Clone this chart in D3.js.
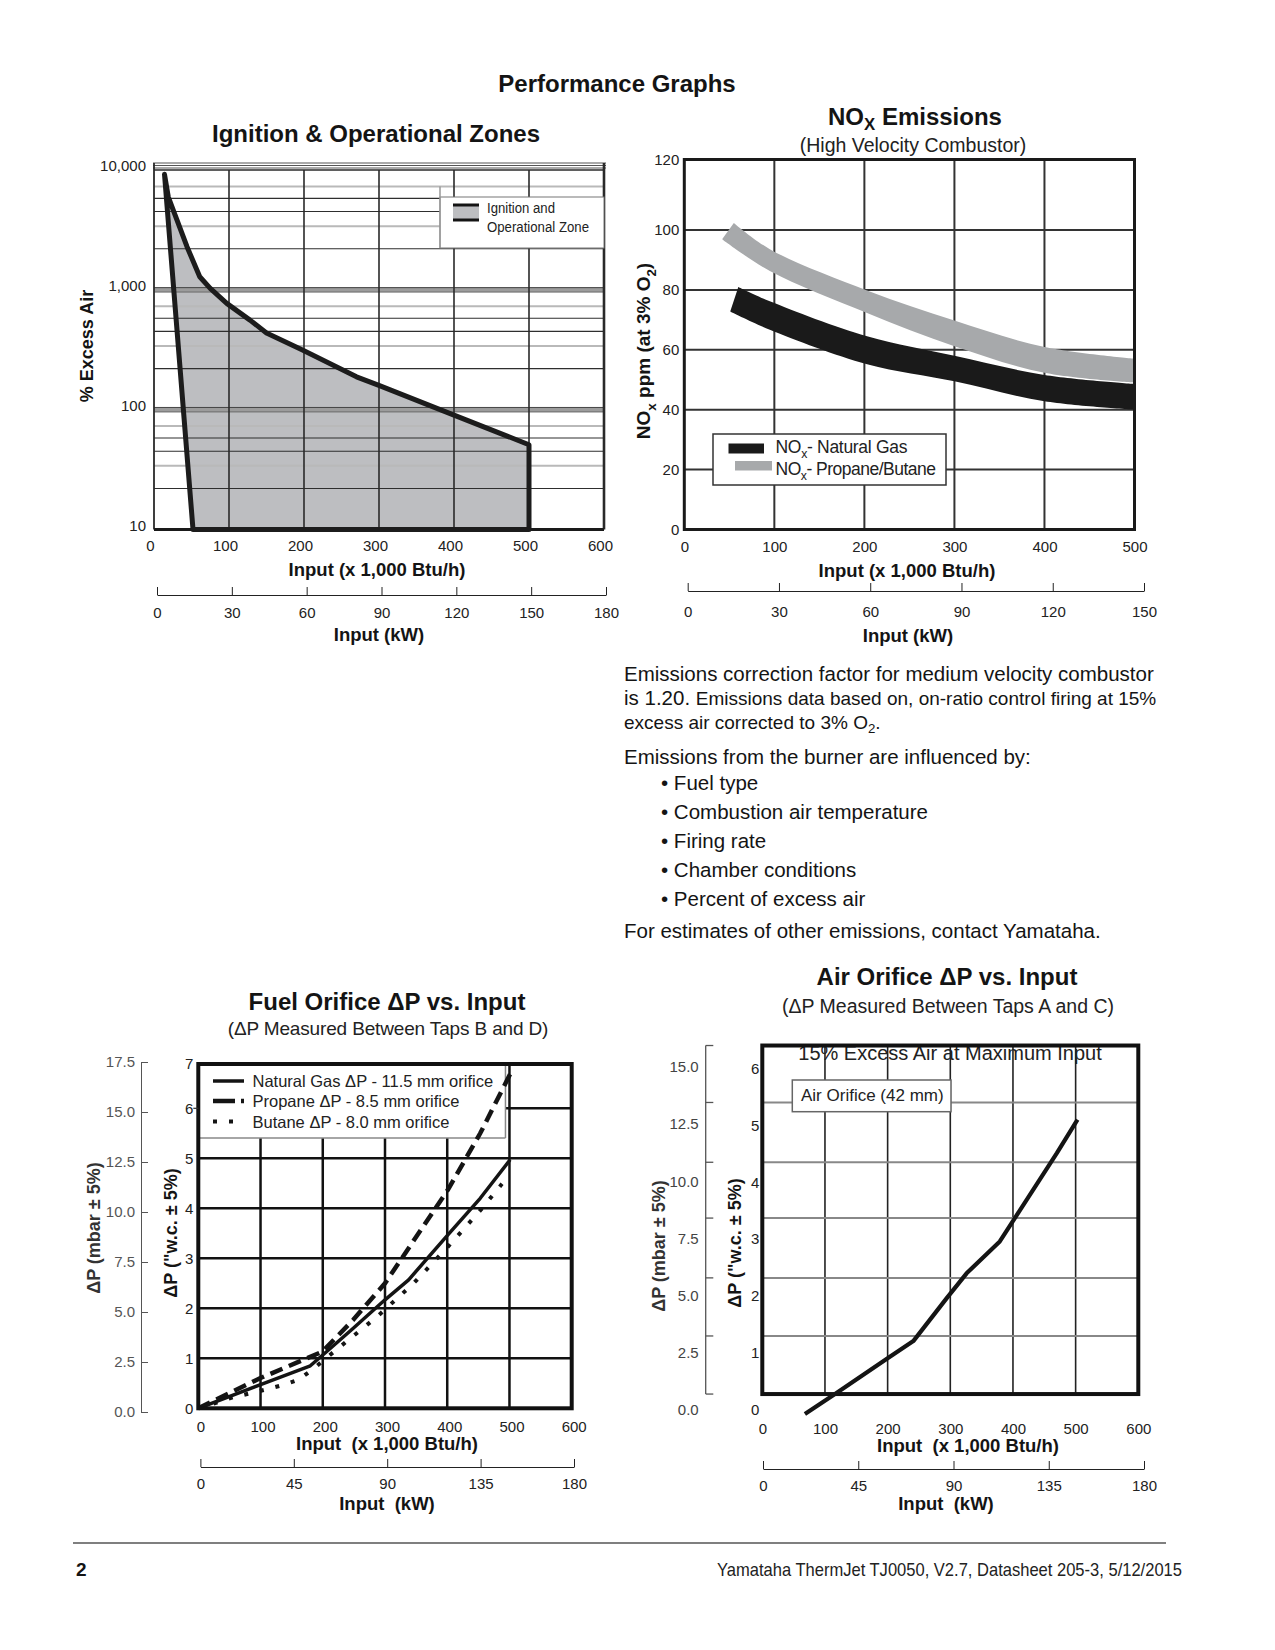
<!DOCTYPE html>
<html>
<head>
<meta charset="utf-8">
<script src="https://cdnjs.cloudflare.com/ajax/libs/d3/7.8.5/d3.min.js"></script>
<style>
  body { margin: 0; background: #fff; }
  svg { display: block; }
  .pre { white-space: pre; }
</style>
</head>
<body>
<div id="page"></div>
<script>
// Performance graphs page, redrawn with d3

// ---- Ignition & Operational Zones (input x1000 Btu/h vs % excess air, zone outline) ----
var zoneInput     = [14, 19, 44, 61, 75, 97, 128, 150, 198, 270, 299, 400, 500, 500, 52];
var zoneExcessAir = [9200, 5980, 2290, 1285, 1028, 771, 559, 437, 314, 188, 160, 90, 51, 10, 10];
var excessAirTicks  = [10, 100, 1000, 10000];
var excessAirLabels = ["10", "100", "1,000", "10,000"];
var minorSteps = [2.2, 3.4, 4.5, 5.8, 7.3];   // minor grid inside each decade
var graySteps  = [3.4, 7.3];
var btuTicks   = [0, 100, 200, 300, 400, 500, 600];
var kwTicks    = [0, 30, 60, 90, 120, 150, 180];

// ---- NOx emissions bands (ppm at 3% O2) ----
var noxTicks    = [0, 20, 40, 60, 80, 100, 120];
var noxBtuTicks = [0, 100, 200, 300, 400, 500];
var noxKwTicks  = [0, 30, 60, 90, 120, 150];
var gasTopX = [60, 95, 203, 300, 400, 500];
var gasTopY = [81, 76.2, 64.5, 58, 51.6, 48.6];
var gasBotX = [51, 95, 203, 300, 400, 500];
var gasBotY = [72.8, 66.7, 55.2, 49.5, 42.8, 40];
var lpgTopX = [55, 95, 203, 300, 400, 500];
var lpgTopY = [102, 93.6, 79.8, 69.8, 60.9, 57];
var lpgBotX = [42, 95, 203, 300, 400, 500];
var lpgBotY = [96.9, 86.3, 72.3, 61.2, 52.3, 49];

// ---- Fuel orifice dP ("w.c.) ----
var wcTicks    = [0, 1, 2, 3, 4, 5, 6, 7];
var mbarTicks  = [0, 2.5, 5, 7.5, 10, 12.5, 15, 17.5];
var kw45Ticks  = [0, 45, 90, 135, 180];
var ngInput    = [0, 99, 180, 206, 249, 300, 338, 401, 453, 501];
var ngDP       = [0, 0.47, 0.85, 1.13, 1.6, 2.17, 2.57, 3.47, 4.2, 4.97];
var propInput  = [0, 99, 199, 249, 300, 401, 453, 501];
var propDP     = [0, 0.6, 1.13, 1.77, 2.5, 4.37, 5.5, 6.77];
var butInput   = [0, 26, 56, 80, 110, 137, 161, 183, 205, 287, 346, 401, 454, 488];
var butDP      = [0, 0.1, 0.22, 0.29, 0.38, 0.47, 0.57, 0.77, 1.0, 1.83, 2.5, 3.23, 3.97, 4.49];

// ---- Air orifice dP ("w.c.) ----
var airWcTicks   = [0, 1, 2, 3, 4, 5, 6];
var airMbarTicks = [0, 2.5, 5, 7.5, 10, 12.5, 15];
var airGrid      = [0.28, 1.30, 2.32, 3.37, 4.35, 5.40, 6.40];  // first = frame bottom, last = frame top
var airInput     = [68, 116, 200, 241, 294, 326, 379, 403, 470, 503];
var airDP        = [-0.07, 0.28, 0.91, 1.21, 1.96, 2.4, 2.96, 3.37, 4.51, 5.1];

var FONT = "'Liberation Sans', Arial, Helvetica, sans-serif";
var INK = "#141414";

var svg = d3.select("#page").append("svg")
    .attr("width", 1275).attr("height", 1650)
    .attr("font-family", FONT);
svg.append("rect").attr("width", 1275).attr("height", 1650).attr("fill", "#fff");

function label(parent, x, y, txt, size, opt) {
    opt = opt || {};
    return parent.append("text")
        .attr("x", x).attr("y", y)
        .attr("font-size", size)
        .attr("font-weight", opt.bold ? 700 : 400)
        .attr("font-family", FONT)
        .attr("text-anchor", opt.anchor || "middle")
        .attr("fill", opt.color || INK)
        .text(txt);
}

// narrow text: squeeze the normal face into the measured width
function narrow(parent, x, y, txt, size, width, anchor) {
    return label(parent, x, y, txt, size, { anchor: anchor || "start", color: "#222" })
        .attr("textLength", width).attr("lengthAdjust", "spacingAndGlyphs");
}

// text with subscripts, parts are strings or {t, sub:true}
function richText(parent, x, y, parts, size, opt) {
    opt = opt || {};
    var t = label(parent, x, y, null, size, opt);
    var shift = 0, drop = (opt.drop || 0.3) * size;
    parts.forEach(function (p) {
        var s = typeof p === "string" ? { t: p, sub: false } : p;
        var target = s.sub ? drop : 0;
        var ts = t.append("tspan").text(s.t).attr("dy", target - shift);
        if (s.sub) ts.attr("font-size", size * 0.7);
        shift = target;
    });
    return t;
}

function vLabel(parent, x, y, parts, size, opt) {
    return richText(parent, 0, 0, parts, size, opt)
        .attr("transform", "translate(" + x + "," + y + ") rotate(-90)");
}

function hline(g, x1, x2, y, color, w) {
    g.append("line").attr("x1", x1).attr("x2", x2).attr("y1", y).attr("y2", y)
        .attr("stroke", color).attr("stroke-width", w);
}
function vline(g, x, y1, y2, color, w) {
    g.append("line").attr("x1", x).attr("x2", x).attr("y1", y1).attr("y2", y2)
        .attr("stroke", color).attr("stroke-width", w);
}

function styleAxis(g, size, color, keepDomain) {
    g.attr("font-family", FONT).attr("font-size", size).attr("color", color);
    if (!keepDomain) g.select(".domain").remove();
    return g;
}

function pairs(xs, ys) { return xs.map(function (v, i) { return [v, ys[i]]; }); }

// ------------------------------------------------------------------
function drawZones() {
    var x = d3.scaleLinear().domain([0, 600]).range([154, 604]);
    var y = d3.scaleLog().domain([10, 10000]).range([529.5, 170]);
    var kw = d3.scaleLinear().domain([0, 180]).range([157, 606]);
    var g = svg.append("g");

    label(g, 376, 142, "Ignition & Operational Zones", 24, { bold: true });

    var pts = pairs(zoneInput, zoneExcessAir);
    var line = d3.line().x(function (d) { return x(d[0]); }).y(function (d) { return y(d[1]); });

    g.append("path").attr("d", line(pts) + "Z").attr("fill", "#bdbec1");

    // minor log grid
    var minor = [];
    [10, 100, 1000].forEach(function (dec) {
        minorSteps.forEach(function (m) {
            minor.push({ v: dec * m, gray: graySteps.indexOf(m) >= 0 });
        });
    });
    g.append("g").selectAll("line").data(minor).enter().append("line")
        .attr("x1", x(0)).attr("x2", x(600))
        .attr("y1", function (d) { return y(d.v); })
        .attr("y2", function (d) { return y(d.v); })
        .attr("stroke", function (d) { return d.gray ? "#b9b9b9" : "#2e2e2e"; })
        .attr("stroke-width", function (d) { return d.gray ? 2 : 1.1; });

    // decade lines (double)
    [100, 1000].forEach(function (v) {
        hline(g, x(0), x(600), y(v), "#9c9c9c", 5);
        hline(g, x(0), x(600), y(v) - 2.2, "#3a3a3a", 0.9);
        hline(g, x(0), x(600), y(v) + 2.2, "#6a6a6a", 0.9);
    });
    // top rule lines
    [-7, -4.5, -2].forEach(function (o) {
        hline(g, x(0) - 1, x(600) + 2, y(10000) + o, "#555", 1);
    });

    // vertical grid
    btuTicks.slice(1, 6).forEach(function (v) {
        vline(g, x(v), y(10000), y(10), "#2a2a2a", 1.6);
    });

    // frame
    hline(g, x(0), x(600), y(10000), "#2a2a2a", 1.6);
    vline(g, x(0), y(10000) - 7, y(10), "#2a2a2a", 1.8);
    vline(g, x(600), y(10000) - 7, y(10), "#2a2a2a", 2.6);
    hline(g, x(0), x(600), y(10), "#1a1a1a", 3);

    // legend
    g.append("rect").attr("x", 440).attr("y", 197).attr("width", x(600) - 440).attr("height", 51)
        .attr("fill", "#fff").attr("stroke", "#777").attr("stroke-width", 1);
    vline(g, 440, y(7300), 248, "#999", 1.5);
    g.append("rect").attr("x", 453).attr("y", 205).attr("width", 26).attr("height", 15)
        .attr("fill", "#bdbec1");
    hline(g, 453, 479, 205, INK, 3);
    hline(g, 453, 479, 220, INK, 3);
    narrow(g, 487, 212.5, "Ignition and", 15.5, 68);
    narrow(g, 487, 232, "Operational Zone", 15.5, 102);

    // zone outline
    g.append("path").attr("d", line(pts) + "Z")
        .attr("fill", "none").attr("stroke", "#1c1c1c")
        .attr("stroke-width", 5).attr("stroke-linejoin", "round");

    // axes
    var ya = g.append("g").attr("transform", "translate(154,-4)")
        .call(d3.axisLeft(y).tickValues(excessAirTicks)
            .tickFormat(function (d, i) { return excessAirLabels[i]; })
            .tickSize(0).tickPadding(8));
    styleAxis(ya, 15, "#222");

    var xa = g.append("g").attr("transform", "translate(-4,529.5)")
        .call(d3.axisBottom(x).tickValues(btuTicks).tickSize(0).tickPadding(11));
    styleAxis(xa, 15, "#222");

    var ka = g.append("g").attr("transform", "translate(0,595)")
        .call(d3.axisBottom(kw).tickValues(kwTicks).tickSizeInner(-8).tickSizeOuter(0).tickPadding(12));
    styleAxis(ka, 15, "#222", true);

    vLabel(g, 93, 346, ["% Excess Air"], 18, { bold: true });
    label(g, 377, 576, "Input (x 1,000 Btu/h)", 18.5, { bold: true });
    label(g, 379, 641, "Input (kW)", 18.5, { bold: true });
}

// ------------------------------------------------------------------
function drawNox() {
    var x = d3.scaleLinear().domain([0, 500]).range([684.3, 1134.5]);
    var y = d3.scaleLinear().domain([0, 100, 120]).range([529.5, 230, 159.5]);
    var kw = d3.scaleLinear().domain([0, 150]).range([687.7, 1144]);
    var g = svg.append("g");

    richText(g, 915, 125, ["NO", { t: "X", sub: true }, " Emissions"], 24, { bold: true, drop: 0.2 });
    label(g, 913, 152, "(High Velocity Combustor)", 19.5, { color: "#222" });

    noxBtuTicks.slice(1, 5).forEach(function (v) { vline(g, x(v), y(120), y(0), "#333", 2); });
    noxTicks.slice(1, 6).forEach(function (v) { hline(g, x(0), x(500), y(v), "#333", 2); });

    var edge = d3.line().curve(d3.curveCatmullRom.alpha(0.5))
        .x(function (d) { return x(d[0]); }).y(function (d) { return y(d[1]); });
    function band(topX, topY, botX, botY) {
        var top = edge(pairs(topX, topY));
        var bot = edge(pairs(botX, botY).reverse());
        return top + "L" + bot.slice(1) + "Z";
    }
    g.append("path").attr("d", band(lpgTopX, lpgTopY, lpgBotX, lpgBotY)).attr("fill", "#a7a9ab");
    g.append("path").attr("d", band(gasTopX, gasTopY, gasBotX, gasBotY)).attr("fill", "#1a1a1a");

    g.append("rect").attr("x", x(0)).attr("y", y(120)).attr("width", x(500) - x(0))
        .attr("height", y(0) - y(120)).attr("fill", "none")
        .attr("stroke", "#1a1a1a").attr("stroke-width", 3);

    // legend
    g.append("rect").attr("x", 713).attr("y", 434).attr("width", 233).attr("height", 51)
        .attr("fill", "#fff").attr("stroke", "#333").attr("stroke-width", 1.5);
    g.append("rect").attr("x", 728.5).attr("y", 443.5).attr("width", 35.5).attr("height", 10).attr("fill", "#1a1a1a");
    g.append("rect").attr("x", 735).attr("y", 461).attr("width", 37).attr("height", 9.5).attr("fill", "#a7a9ab");
    richText(g, 775.5, 453, ["NO", { t: "x", sub: true }, "- Natural Gas"], 17.5, { anchor: "start", color: "#222" })
        .attr("letter-spacing", -0.3);
    richText(g, 775.5, 475, ["NO", { t: "x", sub: true }, "- Propane/Butane"], 17.5, { anchor: "start", color: "#222" })
        .attr("letter-spacing", -0.5);

    var ya = g.append("g").attr("transform", "translate(684.3,0)")
        .call(d3.axisLeft(y).tickValues(noxTicks).tickSize(0).tickPadding(5));
    styleAxis(ya, 15, "#222");
    var xa = g.append("g").attr("transform", "translate(0,529.5)")
        .call(d3.axisBottom(x).tickValues(noxBtuTicks).tickSize(0).tickPadding(12));
    styleAxis(xa, 15, "#222");
    var ka = g.append("g").attr("transform", "translate(0,591)")
        .call(d3.axisBottom(kw).tickValues(noxKwTicks).tickSizeInner(-8).tickSizeOuter(0).tickPadding(15));
    styleAxis(ka, 15, "#222", true);

    vLabel(g, 650, 351, ["NO", { t: "x", sub: true }, " ppm (at 3% O", { t: "2", sub: true }, ")"], 19, { bold: true });
    label(g, 907, 577, "Input (x 1,000 Btu/h)", 18.5, { bold: true });
    label(g, 908, 642, "Input (kW)", 18.5, { bold: true });
}

// ------------------------------------------------------------------
function drawFuel() {
    var x = d3.scaleLinear().domain([0, 600]).range([198.3, 571.7]);
    var y = d3.scaleLinear().domain([0, 6, 7]).range([1408.3, 1108.3, 1064]);
    var ym = d3.scaleLinear().domain([0, 17.5]).range([1412, 1062]);
    var kw = d3.scaleLinear().domain([0, 180]).range([200.4, 574]);
    var g = svg.append("g");

    label(g, 387, 1010, "Fuel Orifice \u0394P vs. Input", 24, { bold: true });
    label(g, 388, 1035, "(\u0394P Measured Between Taps B and D)", 19, { color: "#222" })
        .attr("letter-spacing", -0.15);

    btuTicks.slice(1, 6).forEach(function (v) { vline(g, x(v), y(7), y(0), "#111", 2.5); });
    wcTicks.slice(1, 7).forEach(function (v) { hline(g, x(0), x(600), y(v), "#111", 2.5); });

    // legend box sits under the curves
    g.append("rect").attr("x", x(0)).attr("y", y(7)).attr("width", x(500) - 4 - x(0))
        .attr("height", 74).attr("fill", "#fff");
    vline(g, x(500) - 4, y(7), y(7) + 74, "#888", 1.5);
    hline(g, x(0), x(500) - 4, y(7) + 74, "#888", 1.5);

    var line = d3.line().x(function (d) { return x(d[0]); }).y(function (d) { return y(d[1]); });
    g.append("path").attr("d", line(pairs(butInput, butDP))).attr("fill", "none")
        .attr("stroke", INK).attr("stroke-width", 4).attr("stroke-dasharray", "4,12");
    g.append("path").attr("d", line(pairs(propInput, propDP))).attr("fill", "none")
        .attr("stroke", INK).attr("stroke-width", 4.5).attr("stroke-dasharray", "13,7");
    g.append("path").attr("d", line(pairs(ngInput, ngDP))).attr("fill", "none")
        .attr("stroke", INK).attr("stroke-width", 3.5).attr("stroke-linejoin", "round");

    var rows = [
        { y: 1081, dash: null, w: 3.5, t: "Natural Gas \u0394P - 11.5 mm orifice" },
        { y: 1101, dash: "22,6", w: 4.5, t: "Propane \u0394P - 8.5 mm orifice" },
        { y: 1121.5, dash: "4,12", w: 4, t: "Butane \u0394P - 8.0 mm orifice" }
    ];
    rows.forEach(function (r) {
        var l = g.append("line").attr("x1", 213).attr("x2", 244).attr("y1", r.y).attr("y2", r.y)
            .attr("stroke", INK).attr("stroke-width", r.w);
        if (r.dash) l.attr("stroke-dasharray", r.dash);
        label(g, 252.5, r.y + 6, r.t, 16.5, { anchor: "start", color: "#222" });
    });

    g.append("rect").attr("x", x(0)).attr("y", y(7)).attr("width", x(600) - x(0))
        .attr("height", y(0) - y(7)).attr("fill", "none")
        .attr("stroke", "#111").attr("stroke-width", 4);
    hline(g, x(0) - 5, x(0), y(6), "#333", 1.2);

    var ya = g.append("g").attr("transform", "translate(198.3,0)")
        .call(d3.axisLeft(y).tickValues(wcTicks).tickFormat(d3.format("d")).tickSize(0).tickPadding(5));
    styleAxis(ya, 15, "#222");
    var ma = g.append("g").attr("transform", "translate(141,0)")
        .call(d3.axisLeft(ym).tickValues(mbarTicks).tickFormat(d3.format(".1f"))
            .tickSizeInner(-7).tickSizeOuter(-7).tickPadding(6));
    styleAxis(ma, 15, "#555", true);
    var xa = g.append("g").attr("transform", "translate(2,1408.3)")
        .call(d3.axisBottom(x).tickValues(btuTicks).tickSize(0).tickPadding(13));
    styleAxis(xa, 15, "#222");
    var ka = g.append("g").attr("transform", "translate(0,1467)")
        .call(d3.axisBottom(kw).tickValues(kw45Ticks).tickSizeInner(-8).tickSizeOuter(0).tickPadding(11));
    styleAxis(ka, 15, "#222", true);

    vLabel(g, 100, 1228, ["\u0394P (mbar \u00b1 5%)"], 18, { bold: true, color: "#333" });
    vLabel(g, 177, 1233, ["\u0394P (\"w.c. \u00b1 5%)"], 18, { bold: true });
    label(g, 387, 1450, "Input  (x 1,000 Btu/h)", 18.5, { bold: true }).attr("class", "pre");
    label(g, 387, 1510, "Input  (kW)", 18.5, { bold: true }).attr("class", "pre");
}

// ------------------------------------------------------------------
function drawAir() {
    var x = d3.scaleLinear().domain([0, 600]).range([762.3, 1138.3]);
    var y = d3.scaleLinear().domain([0, 6]).range([1410, 1068.3]);
    var ym = d3.scaleLinear().domain([0, 15]).range([y(0), y(15 / 2.49)]);
    var kw = d3.scaleLinear().domain([0, 180]).range([763, 1144]);
    var g = svg.append("g");
    var top = y(airGrid[airGrid.length - 1]), bottom = y(airGrid[0]);

    label(g, 947, 985, "Air Orifice \u0394P vs. Input", 24, { bold: true });
    label(g, 948, 1013, "(\u0394P Measured Between Taps A and C)", 19.5, { color: "#222" });

    btuTicks.slice(1, 6).forEach(function (v) { vline(g, x(v), top, bottom, "#222", 1.6); });
    airGrid.slice(1, airGrid.length - 1).forEach(function (v) { hline(g, x(0), x(600), y(v), "#888", 2); });

    label(g, 950, 1060, "15% Excess Air at Maximum Input", 20, { color: "#222" });
    g.append("rect").attr("x", 792.3).attr("y", 1080).attr("width", 158.7).attr("height", 31.7)
        .attr("fill", "#fff").attr("stroke", "#666").attr("stroke-width", 1.5);
    label(g, 801, 1101, "Air Orifice (42 mm)", 17, { anchor: "start", color: "#222" });

    g.append("rect").attr("x", x(0)).attr("y", top).attr("width", x(600) - x(0))
        .attr("height", bottom - top).attr("fill", "none")
        .attr("stroke", "#111").attr("stroke-width", 4);

    var line = d3.line().x(function (d) { return x(d[0]); }).y(function (d) { return y(d[1]); });
    g.append("path").attr("d", line(pairs(airInput, airDP))).attr("fill", "none")
        .attr("stroke", INK).attr("stroke-width", 4.2).attr("stroke-linejoin", "round");

    // mbar bracket
    vline(g, 705.7, y(airGrid[airGrid.length - 1]), y(airGrid[0]), "#555", 1.3);
    airGrid.forEach(function (v) { hline(g, 705.7, 713.3, y(v), "#555", 1.3); });

    var ya = g.append("g").attr("transform", "translate(762.3,0)")
        .call(d3.axisLeft(y).tickValues(airWcTicks).tickFormat(d3.format("d")).tickSize(0).tickPadding(3));
    styleAxis(ya, 15, "#222");
    var ma = g.append("g").attr("transform", "translate(705.7,0)")
        .call(d3.axisLeft(ym).tickValues(airMbarTicks).tickFormat(d3.format(".1f")).tickSize(0).tickPadding(7));
    styleAxis(ma, 15, "#444");
    var xa = g.append("g").attr("transform", "translate(0," + bottom + ")")
        .call(d3.axisBottom(x).tickValues(btuTicks).tickSize(0).tickPadding(29));
    styleAxis(xa, 15, "#222");
    var ka = g.append("g").attr("transform", "translate(0,1469)")
        .call(d3.axisBottom(kw).tickValues(kw45Ticks).tickSizeInner(-8).tickSizeOuter(0).tickPadding(11));
    styleAxis(ka, 15, "#222", true);

    vLabel(g, 665, 1246, ["\u0394P (mbar \u00b1 5%)"], 18, { bold: true, color: "#333" });
    vLabel(g, 741, 1243, ["\u0394P (\"w.c. \u00b1 5%)"], 18, { bold: true });
    label(g, 968, 1452, "Input  (x 1,000 Btu/h)", 18.5, { bold: true }).attr("class", "pre");
    label(g, 946, 1510, "Input  (kW)", 18.5, { bold: true }).attr("class", "pre");
}

// ------------------------------------------------------------------
function drawText() {
    var g = svg.append("g");
    label(g, 617, 92, "Performance Graphs", 24, { bold: true });

    label(g, 624, 681, "Emissions correction factor for medium velocity combustor", 20.5, { anchor: "start" });
    var l2 = label(g, 624, 705, "is 1.20. ", 20.5, { anchor: "start" });
    l2.append("tspan").attr("font-size", 19).text("Emissions data based on, on-ratio control firing at 15%");
    richText(g, 624, 729, ["excess air corrected to 3% O", { t: "2", sub: true }, "."], 19, { anchor: "start", drop: 0.2 });
    label(g, 624, 764, "Emissions from the burner are influenced by:", 20.5, { anchor: "start" });
    ["Fuel type", "Combustion air temperature", "Firing rate", "Chamber conditions", "Percent of excess air"]
        .forEach(function (t, i) {
            label(g, 661, 790 + i * 29, "\u2022 " + t, 20.5, { anchor: "start" });
        });
    label(g, 624, 938, "For estimates of other emissions, contact Yamataha.", 20.5, { anchor: "start" });

    // footer
    hline(g, 73, 1166, 1543, "#555", 1.5);
    label(g, 76, 1576, "2", 19, { bold: true, anchor: "start" });
    narrow(g, 1182, 1576, "Yamataha ThermJet TJ0050, V2.7, Datasheet 205-3, 5/12/2015", 19, 465, "end");
}

drawZones();
drawNox();
drawFuel();
drawAir();
drawText();
</script>
</body>
</html>
